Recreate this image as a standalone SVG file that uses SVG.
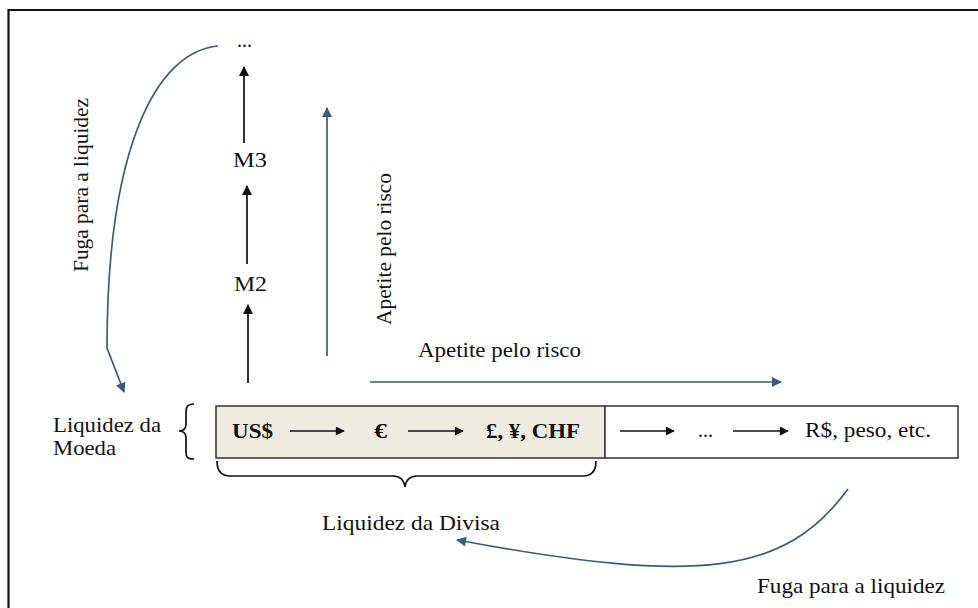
<svg xmlns="http://www.w3.org/2000/svg" width="978" height="608" viewBox="0 0 978 608">
<defs>
<style>
.t{font-family:"Liberation Serif","Times New Roman",serif;font-size:21.5px;fill:#111}
.b{font-weight:bold}
.k{stroke:#111;stroke-width:1.7;fill:none}
.u{stroke:#3c5a7d;stroke-width:1.7;fill:none}
</style>
<marker id="ak" viewBox="0 0 10 10" refX="9" refY="5" markerWidth="12" markerHeight="9" markerUnits="userSpaceOnUse" orient="auto">
<path d="M0,0 L10,5 L0,10 Z" fill="#111"/>
</marker>
<marker id="ak2" viewBox="0 0 10 10" refX="9" refY="5" markerWidth="11" markerHeight="10" markerUnits="userSpaceOnUse" orient="auto">
<path d="M0,0 L10,5 L0,10 Z" fill="#111"/>
</marker>
<marker id="au" viewBox="0 0 10 10" refX="9" refY="5" markerWidth="12" markerHeight="10" markerUnits="userSpaceOnUse" orient="auto">
<path d="M0,0 L10,5 L0,10 Z" fill="#3c5a7d"/>
</marker>
</defs>
<rect width="978" height="608" fill="#fff"/>
<path d="M8.5,608 L8.5,10 L978,10" fill="none" stroke="#111" stroke-width="2.2"/>

<g id="box">
<rect x="216" y="406" width="389" height="52" fill="#eeece1" stroke="#333" stroke-width="1.5"/>
<rect x="605" y="406" width="353" height="52" fill="#fff" stroke="#333" stroke-width="1.5"/>
</g>
<g id="usd"><text class="t b" x="232" y="438" textLength="41" lengthAdjust="spacingAndGlyphs">US$</text></g>
<g id="eur"><text class="t b" x="374" y="438" textLength="13" lengthAdjust="spacingAndGlyphs">€</text></g>
<g id="gbp"><text class="t b" x="486" y="438" textLength="94" lengthAdjust="spacingAndGlyphs">£, ¥, CHF</text></g>
<g id="dots2"><text class="t" x="698" y="437" textLength="15" lengthAdjust="spacingAndGlyphs">...</text></g>
<g id="brl"><text class="t" x="805" y="437" textLength="126" lengthAdjust="spacingAndGlyphs">R$, peso, etc.</text></g>

<g id="moeda">
<text class="t" x="53" y="432" textLength="108" lengthAdjust="spacingAndGlyphs">Liquidez da</text>
<text class="t" x="53" y="455" textLength="63" lengthAdjust="spacingAndGlyphs">Moeda</text>
</g>
<g id="dots1"><text class="t" x="237" y="47" textLength="15" lengthAdjust="spacingAndGlyphs">...</text></g>
<g id="m3"><text class="t" x="233" y="167" textLength="34" lengthAdjust="spacingAndGlyphs">M3</text></g>
<g id="m2"><text class="t" x="234" y="291" textLength="33" lengthAdjust="spacingAndGlyphs">M2</text></g>
<g id="divisa"><text class="t" x="322" y="530" textLength="178" lengthAdjust="spacingAndGlyphs">Liquidez da Divisa</text></g>
<g id="fuga2"><text class="t" x="757" y="593" textLength="188" lengthAdjust="spacingAndGlyphs">Fuga para a liquidez</text></g>
<g id="fuga1"><text class="t" x="88" y="185" text-anchor="middle" transform="rotate(-90 88 185)" textLength="174" lengthAdjust="spacingAndGlyphs">Fuga para a liquidez</text></g>
<g id="apetite-v"><text class="t" x="391" y="249" text-anchor="middle" transform="rotate(-90 391 249)" textLength="152" lengthAdjust="spacingAndGlyphs">Apetite pelo risco</text></g>
<g id="apetite-h"><text class="t" x="418" y="357" textLength="163" lengthAdjust="spacingAndGlyphs">Apetite pelo risco</text></g>

<g id="connectors">
<line class="k" x1="290" y1="431" x2="344" y2="431" marker-end="url(#ak)"/>
<line class="k" x1="408" y1="431" x2="463" y2="431" marker-end="url(#ak)"/>
<line class="k" x1="620" y1="431" x2="674" y2="431" marker-end="url(#ak)"/>
<line class="k" x1="733" y1="431" x2="788" y2="431" marker-end="url(#ak)"/>
<line class="k" x1="248" y1="383" x2="248" y2="305" marker-end="url(#ak2)"/>
<line class="k" x1="247" y1="264" x2="247" y2="186" marker-end="url(#ak2)"/>
<line class="k" x1="244" y1="143" x2="244" y2="67" marker-end="url(#ak2)"/>
<line class="u" x1="327" y1="356" x2="327" y2="108" marker-end="url(#au)"/>
<line class="u" x1="370" y1="382" x2="781" y2="382" marker-end="url(#au)"/>
<path class="u" d="M218,46 C155,52 107,150 107,348 L124,392" marker-end="url(#au)"/>
<path class="u" d="M848,489 C785,575 700,585 457,540" marker-end="url(#au)"/>
<path class="k" stroke-width="1.3" d="M194,404 C187,404 186,407 186,413 L186,424 C186,429 184,431 179,431 C184,431 186,433 186,438 L186,452 C186,457 187,459 194,459"/>
<path class="k" stroke-width="1.3" d="M217,461 C217,470 221,476 230,476 L393,476 C400,476 404,480 405,487 C406,480 410,476 417,476 L583,476 C592,476 596,470 596,461"/>
</g>
</svg>
